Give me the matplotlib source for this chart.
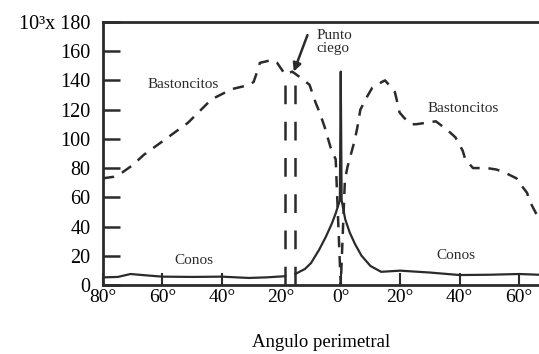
import numpy as np
import matplotlib.pyplot as plt

plt.rcParams['font.family'] = ['Liberation Serif', 'DejaVu Serif']

# datos (angulo en grados, densidad en miles por mm2)
rod_angle = [-80, -76.5, -73.5, -70, -66.3, -59.5, -51.4, -43.5, -36.7, -30.6, -29.3,
             -27.6, -27.2, -23.1, -21.4, -18.7, -16.3, -13.6, -10.5, -8.5, -7.1,
             -5.4, -4.4, -3.4, -1.7, 0,
             1.4, 2.3, 4.7, 5.6, 6.6, 8.9, 10.6, 13.9, 14.9, 16.2, 18.2, 18.8, 19.8,
             21.5, 23.8, 25.4, 28.7, 32, 35.9, 38.6, 41, 41.9, 44.5, 49.2, 52.4,
             55.1, 59.1, 60.1, 62.7, 63.4, 65.7, 66.7]
rod_density = [73, 74, 77, 82, 89, 99, 111, 127, 134, 137, 139,
               149, 152, 154, 152, 144, 146, 142, 137, 125, 118,
               108, 101, 94, 86, 0,
               72, 81, 99, 108, 120, 129, 135, 139, 140, 137, 132, 127, 118,
               114, 110, 110, 111, 112, 106, 101, 92, 86, 80, 80, 79,
               77, 73, 70, 63, 58, 49, 46]

cone_angle = [-80, -75, -70.7, -65, -60, -50, -40, -31, -25, -18.7, np.nan,
              -15.3, -12, -10, -7.3, -5, -3, -1.7, -0.3, 0, 0.3, 1.5, 3, 4.8,
              7, 10, 13.6, 20, 30, 40, 50, 60, 66.7]
cone_density = [5.2, 5.5, 7.5, 6.5, 5.7, 5.5, 5.7, 4.8, 5.2, 6, np.nan,
                7.5, 11, 15, 24, 33, 42, 49, 58, 146, 58, 45, 36, 28,
                20, 13, 9, 9.8, 8.5, 6.8, 7, 7.5, 7]

blind_spot = [-18.7, -15.3]
blind_top = 140

x_ticks = [-80, -60, -40, -20, 0, 20, 40, 60]
x_labels = ['80°', '60°', '40°', '20°', '0°', '20°', '40°', '60°']
y_ticks = [0, 20, 40, 60, 80, 100, 120, 140, 160, 180]
y_labels = ['0', '20', '40', '60', '80', '100', '120', '140', '160', '10³x 180']

ink = '#2b2b2b'

fig = plt.figure(figsize=(5.39, 3.54), dpi=100)
ax = fig.add_axes([0.191, 0.195, 0.809, 0.743])

ax.plot(rod_angle, rod_density, color=ink, lw=1.8, dashes=[4.5, 3.5])
ax.plot(cone_angle, cone_density, color=ink, lw=1.6)
for xb in blind_spot:
    ax.plot([xb, xb], [0, blind_top], color=ink, lw=1.8, dashes=[7.5, 7])

ax.set_xlim(-80, 66.7)
ax.set_ylim(0, 180)

ax.spines['right'].set_visible(False)
for s in ['left', 'top', 'bottom']:
    ax.spines[s].set_linewidth(2)
    ax.spines[s].set_color(ink)

ax.set_xticks(x_ticks)
ax.set_xticklabels(x_labels, fontsize=14)
ax.set_yticks(y_ticks)
ax.set_yticklabels(y_labels, fontsize=14.5)
ax.tick_params(axis='y', direction='in', length=12, width=1.8, color=ink, pad=9)
ax.tick_params(axis='x', direction='in', length=9, width=1.5, color=ink, pad=3)
# el tick de -20 no se ve en la figura
ax.xaxis.get_major_ticks()[3].tick1line.set_visible(False)

ax.set_xlabel('Angulo perimetral', fontsize=13.5, labelpad=20)

ax.text(-53, 137.5, 'Bastoncitos', fontsize=11, ha='center', va='center', color=ink)
ax.text(41.3, 121, 'Bastoncitos', fontsize=11, ha='center', va='center', color=ink)
ax.text(-49.3, 16.5, 'Conos', fontsize=11, ha='center', va='center', color=ink)
ax.text(38.6, 20.5, 'Conos', fontsize=11, ha='center', va='center', color=ink)
ax.text(-8.3, 166, 'Punto\nciego', fontsize=11, ha='left', va='center',
        color=ink, linespacing=1.0)
ax.annotate('', xy=(-15.8, 146), xytext=(-11.2, 171),
            arrowprops=dict(arrowstyle='-|>', color=ink, lw=1.8,
                            mutation_scale=12, shrinkA=0, shrinkB=0))

plt.savefig('out.png', dpi=100)
